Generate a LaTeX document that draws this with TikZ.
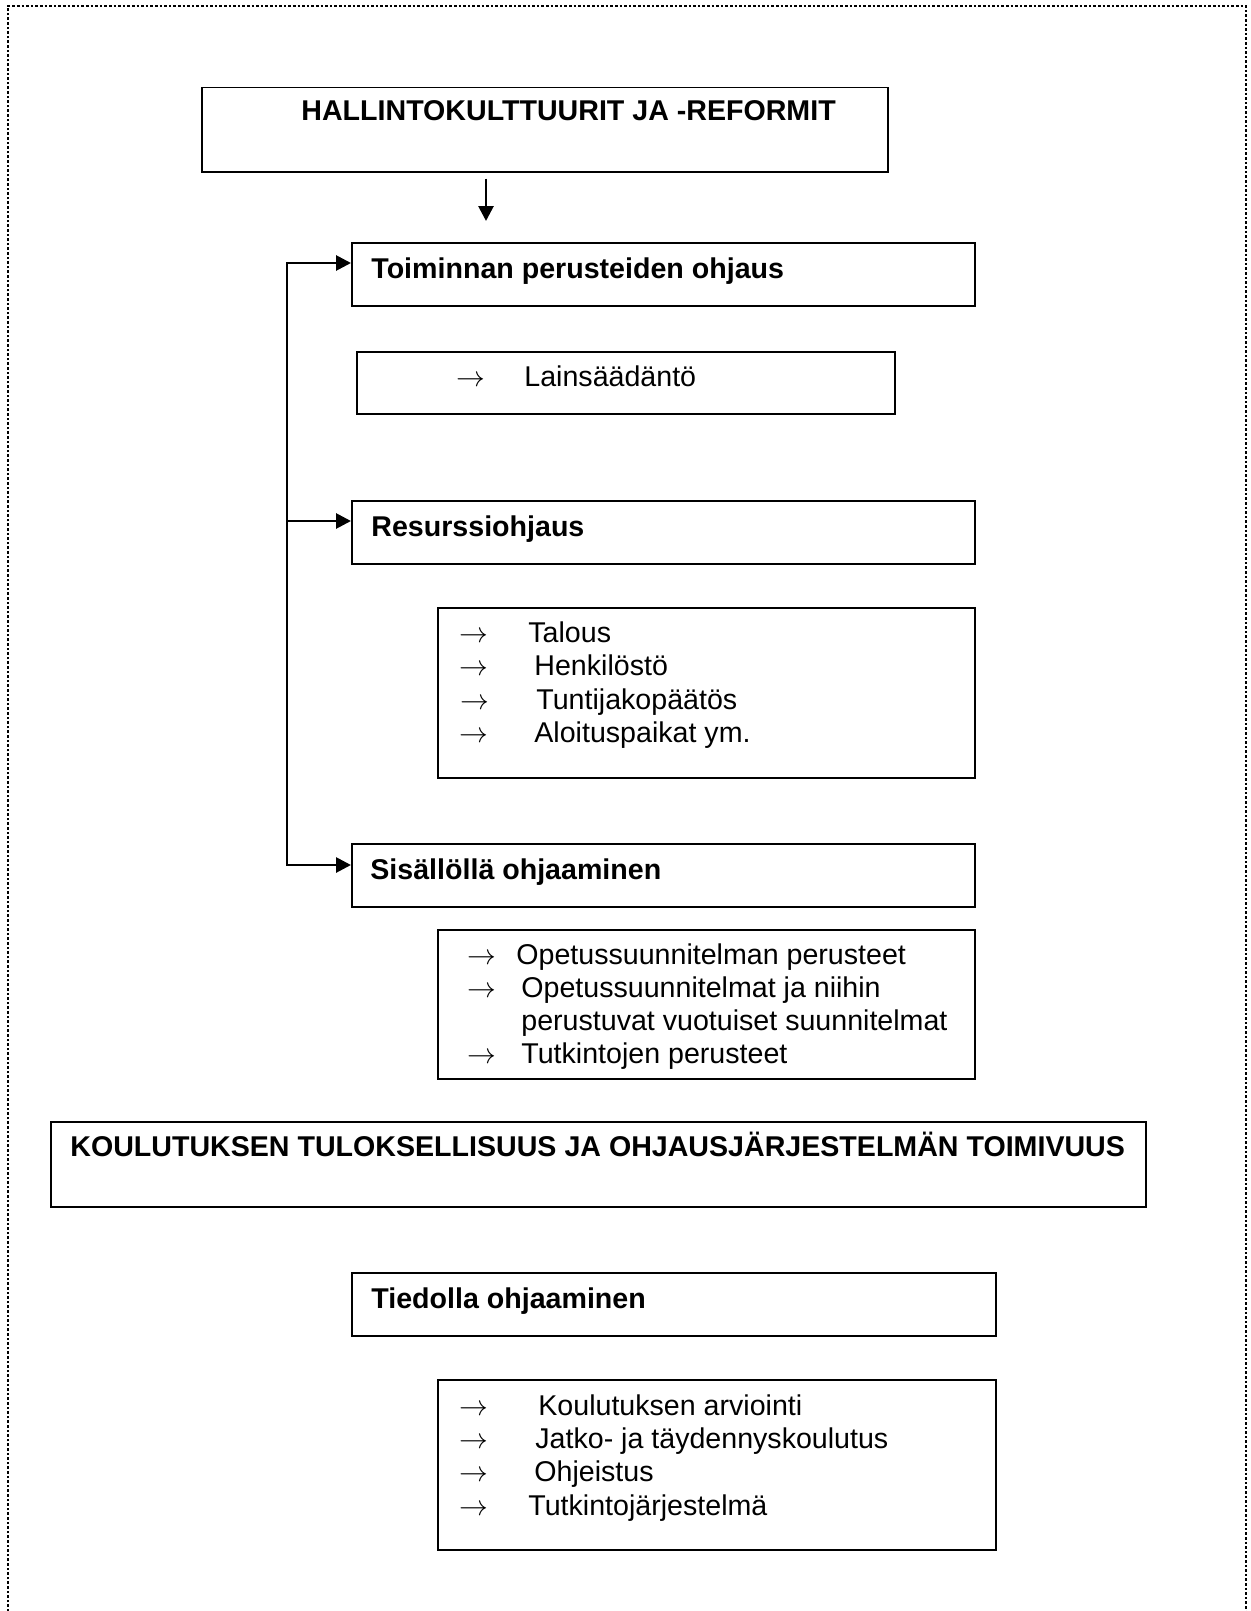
\documentclass[tikz,border=0pt]{standalone}
\usepackage{fontspec}
\setmainfont{Liberation Sans}
\usetikzlibrary{arrows.meta}

\begin{document}
\begin{tikzpicture}
[x=0.5pt,y=-0.5pt,
  boxdecorate/.style={draw,line width=0.75pt,inner sep=0pt,anchor=north west},%
  headdecorate/.style={font=\fontsize{14.3pt}{16.5pt}\selectfont\bfseries,inner sep=0pt,anchor=base west},%
  itemdecorate/.style={font=\fontsize{14.3pt}{16.5pt}\selectfont,inner sep=0pt,anchor=base west},%
  linedecorate/.style={-{Triangle[length=7.5pt,width=7.5pt]},line width=1.4pt}]
\useasboundingbox (0,0) rectangle (1250,1611);
%% dotted frame
\draw[densely dotted,line width=1.3pt] (8,1630) -- (8,6) -- (1246,6) -- (1246,1630);
%% boxes
\foreach \nodename/\x/\y/\w/\h in {hallinto/201/87/686/84, toim/351/242/623/63,
  lain/356/351/538/62, resurssi/351/500/623/63, talousbox/437/607/537/170,
  sisalto/351/843/623/63, opsbox/437/929/537/149, tulos/50/1121/1095/85,
  tieto/351/1272/644/63, tietobox/437/1379/558/170}
{
  \node (\nodename) at (\x,\y) [boxdecorate,minimum width=\w*0.5pt,minimum height=\h*0.5pt] {};
}
%% headings
\foreach \nodename/\x/\y/\words in {hallintotext/301/120/{HALLINTOKULTTUURIT JA -REFORMIT},
  toimtext/371/278/{Toiminnan perusteiden ohjaus}, resurssitext/371/536/{Resurssiohjaus},
  sisaltotext/370/879/{Sisällöllä ohjaaminen},
  tulostext/70/1156/{KOULUTUKSEN TULOKSELLISUUS JA OHJAUSJÄRJESTELMÄN TOIMIVUUS},
  tietotext/371/1308/{Tiedolla ohjaaminen}}
{
  \node (\nodename) at (\x,\y) [headdecorate] {\words};
}
%% list items
\foreach \nodename/\ax/\tx/\y/\words in {lain/456/524/386/{Lainsäädäntö},
  talous/459/528/642/{Talous}, henkilosto/459/534/675/{Henkilöstö},
  tuntijako/460/536/709/{Tuntijakopäätös}, aloitus/459/534/742/{Aloituspaikat ym.},
  opsperusteet/467/516/964/{Opetussuunnitelman perusteet},
  ops/467/521/997/{Opetussuunnitelmat ja niihin},
  tutkinnot/467/521/1063/{Tutkintojen perusteet},
  arviointi/459/538/1415/{Koulutuksen arviointi},
  jatko/459/535/1448/{Jatko- ja täydennyskoulutus},
  ohjeistus/459/534/1481/{Ohjeistus}, tutkintojarj/459/528/1515/{Tutkintojärjestelmä}}
{
  \node (arrow-\nodename) at (\ax,\y) [itemdecorate] {$\rightarrow$};
  \node (text-\nodename) at (\tx,\y) [itemdecorate] {\words};
}
\node (text-opsjatko) at (521,1030) [itemdecorate] {perustuvat vuotuiset suunnitelmat};
%% connectors
\coordinate (downto) at (486,221);
\draw[linedecorate,shorten <=3pt] (hallinto.south -| downto) -- (downto);
\foreach \boxname/\y in {toim/263, resurssi/521, sisalto/865}
{
  \coordinate (branch-\boxname) at (287,\y);
  \draw[linedecorate] (branch-\boxname) -- (branch-\boxname -| \boxname.west);
}
\draw[line width=1.4pt,line cap=rect] (branch-toim) -- (branch-sisalto);
\end{tikzpicture}
\end{document}
